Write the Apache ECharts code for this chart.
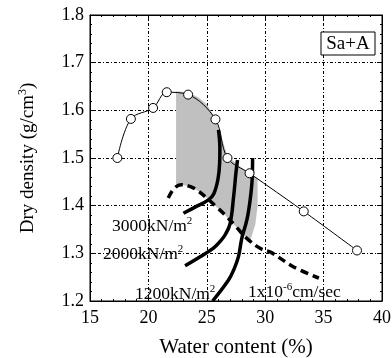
<!DOCTYPE html>
<html><head><meta charset="utf-8">
<script src="https://cdn.jsdelivr.net/npm/echarts@6/dist/echarts.min.js"></script>
<style>html,body{margin:0;padding:0;background:#fff}#c{width:392px;height:358px}</style>
</head><body><div id="c"></div>
<script>
// Compaction curve (water content %, dry density g/cm3)
const compactionX = [17.34, 18.5, 20.4, 21.57, 23.4, 25.74, 26.77, 28.66, 33.3, 37.86];
const compactionY = [1.50, 1.582, 1.605, 1.638, 1.633, 1.581, 1.50, 1.468, 1.388, 1.306];
// Strength contours
const line3000X = [26.0, 26.12, 26.1, 25.95, 25.6, 25.14, 24.0, 23.0];
const line3000Y = [1.559, 1.52, 1.49, 1.455, 1.425, 1.412, 1.397, 1.384];
const line2000X = [27.63, 27.5, 27.3, 27.0, 26.6, 26.14, 25.57, 24.43, 23.14];
const line2000Y = [1.496, 1.47, 1.42, 1.363, 1.34, 1.325, 1.311, 1.293, 1.274];
const line1200X = [28.92, 28.88, 28.7, 28.43, 28.0, 27.71, 27.3, 26.86, 25.5];
const line1200Y = [1.50, 1.454, 1.41, 1.37, 1.332, 1.293, 1.265, 1.244, 1.20];
// Permeability 1x10^-6 cm/sec
const permX = [21.7, 22.2, 22.8, 23.6, 24.3, 25.0, 25.8, 26.5, 27.5, 28.4, 29.6, 30.5, 32.4, 34.6];
const permY = [1.416, 1.436, 1.444, 1.44, 1.43, 1.416, 1.398, 1.382, 1.356, 1.332, 1.31, 1.302, 1.272, 1.248];
// Shaded zone outline
const zoneX = [22.37, 23.4, 24.3, 25.0, 25.75, 26.3, 26.8, 27.7, 28.66, 29.35, 29.35, 29.15, 28.7, 28.4, 27.5, 26.5, 25.0, 24.3, 23.6, 22.8, 22.37];
const zoneY = [1.640, 1.638, 1.627, 1.612, 1.583, 1.54, 1.503, 1.485, 1.468, 1.458, 1.40, 1.36, 1.325, 1.332, 1.356, 1.382, 1.416, 1.43, 1.44, 1.444, 1.442];
// Axis ticks
const xTicks = [15, 20, 25, 30, 35, 40];
const yTicks = [1.2, 1.3, 1.4, 1.5, 1.6, 1.7, 1.8];

const zip = (a, b) => a.map((v, i) => [v, b[i]]);
const FONT = '"Liberation Serif", "DejaVu Serif", serif';
const chart = echarts.init(document.getElementById('c'));
const gridLine = {show: true, lineStyle: {color: '#000', width: 1, type: [3, 2, 1, 2]}};
const thick = {color: '#000', width: 3.5};
const sup = {font: '11px ' + FONT, fill: '#000', verticalAlign: 'top', padding: [0, 0, 9, 0]};
const lab = {font: '17.5px ' + FONT, fill: '#000'};

chart.setOption({
  animation: false,
  grid: {left: 90, right: 10, top: 15, bottom: 57, outerBoundsMode: 'none', containLabel: false, show: true, borderColor: '#000', borderWidth: 1, backgroundColor: 'transparent'},
  xAxis: [{
    type: 'value', min: xTicks[0], max: xTicks[xTicks.length - 1], interval: 5,
    name: 'Water content (%)', nameLocation: 'middle', nameGap: 36,
    nameTextStyle: {fontFamily: FONT, fontSize: 21, color: '#000'},
    axisLine: {show: true, lineStyle: {color: '#000'}},
    axisTick: {show: true, inside: true, length: 5, lineStyle: {color: '#000'}},
    minorTick: {show: true, splitNumber: 5, length: 2, lineStyle: {color: '#000'}},
    axisLabel: {fontFamily: FONT, fontSize: 18, color: '#000', margin: 8},
    splitLine: gridLine
  }, {
    type: 'value', position: 'top', min: 15, max: 40, interval: 5,
    axisLine: {show: true, lineStyle: {color: '#000'}},
    axisTick: {show: true, inside: true, length: 5, lineStyle: {color: '#000'}},
    minorTick: {show: true, splitNumber: 5, length: 2, lineStyle: {color: '#000'}},
    axisLabel: {show: false}, splitLine: {show: false}
  }],
  yAxis: [{
    type: 'value', min: yTicks[0], max: yTicks[yTicks.length - 1], interval: 0.1,
    name: '{a|Dry density (g/cm}{s|3}{a|)}', nameLocation: 'middle', nameGap: 51,
    nameTextStyle: {color: '#000', rich: {
      a: {fontFamily: FONT, fontSize: 19, color: '#000'},
      s: {fontFamily: FONT, fontSize: 12, color: '#000', verticalAlign: 'top', padding: [0, 0, 10, 0]}
    }},
    axisLine: {show: true, lineStyle: {color: '#000'}},
    axisTick: {show: true, inside: true, length: 5, lineStyle: {color: '#000'}},
    minorTick: {show: true, splitNumber: 5, length: 2, lineStyle: {color: '#000'}},
    axisLabel: {fontFamily: FONT, fontSize: 18, color: '#000', margin: 6, formatter: v => v.toFixed(1)},
    splitLine: gridLine
  }, {
    type: 'value', position: 'right', min: 1.2, max: 1.8, interval: 0.1,
    axisLine: {show: true, lineStyle: {color: '#000'}},
    axisTick: {show: true, inside: true, length: 5, lineStyle: {color: '#000'}},
    minorTick: {show: true, splitNumber: 5, length: 2, lineStyle: {color: '#000'}},
    axisLabel: {show: false}, splitLine: {show: false}
  }],
  series: [
    {
      type: 'custom', z: 1, silent: true,
      data: [0],
      renderItem: (params, api) => ({
        type: 'polygon',
        shape: {points: zip(zoneX, zoneY).map(p => api.coord(p)), smooth: 0},
        style: {fill: '#c0c0c0', stroke: 'none'}
      })
    },
    {type: 'line', z: 3, data: zip(line3000X, line3000Y), smooth: 0.4, showSymbol: false, lineStyle: thick},
    {type: 'line', z: 3, data: zip(line2000X, line2000Y), smooth: 0.4, showSymbol: false, lineStyle: thick},
    {type: 'line', z: 3, data: zip(line1200X, line1200Y), smooth: 0.4, showSymbol: false, lineStyle: thick},
    {type: 'line', z: 3, data: zip(permX, permY), smooth: 0.4, showSymbol: false, lineStyle: {color: '#000', width: 3.5, type: [8, 5]}},
    {
      type: 'line', z: 4, data: zip(compactionX, compactionY), smooth: 0.35,
      symbol: 'circle', symbolSize: 9,
      lineStyle: {color: '#000', width: 1},
      itemStyle: {color: '#fff', borderColor: '#000', borderWidth: 1}
    }
  ],
  graphic: [
    {type: 'rect', z: 10, shape: {x: 321, y: 32, width: 54, height: 23}, style: {fill: '#fff', stroke: '#000', lineWidth: 1}},
    {type: 'text', z: 11, x: 348, y: 44, style: {text: 'Sa+A', font: '19px ' + FONT, fill: '#000', align: 'center', verticalAlign: 'middle'}},
    {type: 'text', z: 11, x: 112, y: 226, style: {text: '{a|3000kN/m}{s|2}', verticalAlign: 'middle', rich: {a: lab, s: sup}}},
    {type: 'text', z: 11, x: 103, y: 254, style: {text: '{a|2000kN/m}{s|2}', verticalAlign: 'middle', rich: {a: lab, s: sup}}},
    {type: 'text', z: 11, x: 135, y: 294, style: {text: '{a|1200kN/m}{s|2}', verticalAlign: 'middle', rich: {a: lab, s: sup}}},
    {type: 'text', z: 11, x: 248, y: 292, style: {text: '{a|1x10}{s|-6}{a|cm/sec}', verticalAlign: 'middle', rich: {a: lab, s: sup}}}
  ]
});
</script></body></html>
